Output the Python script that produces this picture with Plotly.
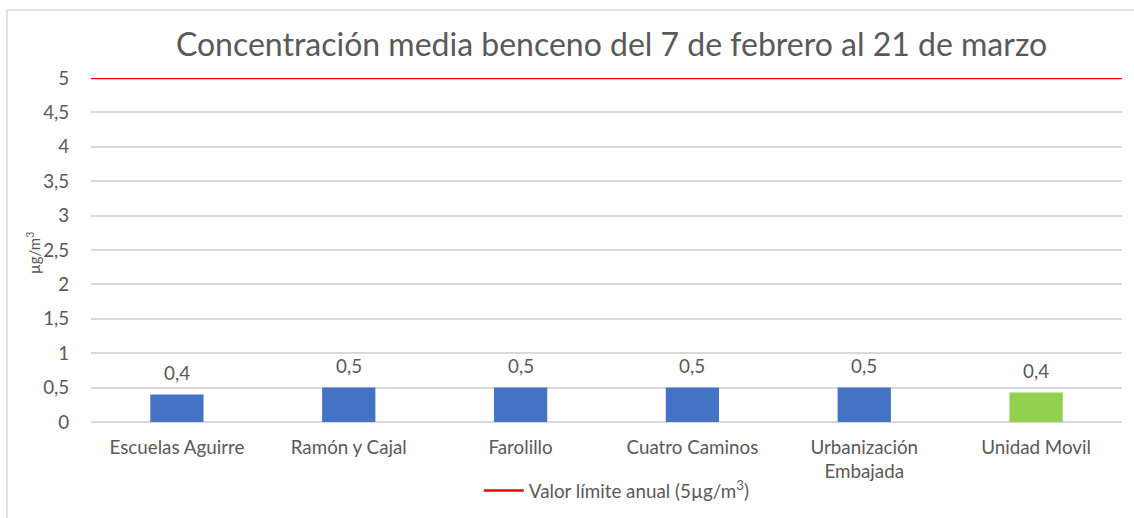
import plotly.graph_objects as go

categories = ["Escuelas Aguirre", "Ramón y Cajal", "Farolillo", "Cuatro Caminos",
              "Urbanización<br>Embajada", "Unidad Movil"]
values = [0.4, 0.5, 0.5, 0.5, 0.5, 0.43]
bar_colors = ["#4472C4", "#4472C4", "#4472C4", "#4472C4", "#4472C4", "#92D050"]
limit_value = 5
limit_name = "Valor límite anual (5µg/m<sup>3</sup>)"
title_text = "Concentración media benceno del 7 de febrero al 21 de marzo"
y_title = "µg/m<sup>3</sup>"
y_ticks = [0, 0.5, 1, 1.5, 2, 2.5, 3, 3.5, 4, 4.5, 5]

labels = [f"{v:.1f}".replace(".", ",") for v in values]
GRAY = "#595959"
FONT = "Lato"
FS = 18.8

fig = go.Figure()
fig.add_trace(go.Bar(x=categories, y=values, marker_color=bar_colors,
                     marker_line_width=0, showlegend=False, hoverinfo="skip"))
fig.add_trace(go.Scatter(x=[0, 1], y=[limit_value, limit_value], mode="lines",
                         line=dict(color="#FF0000", width=2.5), name=limit_name,
                         xaxis="x2", yaxis="y", showlegend=True))

for c, v, t in zip(categories, values, labels):
    fig.add_annotation(x=c, y=v, text=t, showarrow=False, yshift=22,
                       font=dict(family=FONT, size=FS, color=GRAY))

fig.add_annotation(xref="paper", yref="paper", x=-0.0563, y=0.491, text=y_title,
                   textangle=-90, showarrow=False, xanchor="center", yanchor="middle",
                   font=dict(family=FONT, size=15, color=GRAY))

fig.add_shape(type="rect", xref="paper", yref="paper", x0=-0.0815, x1=1.02,
              y0=-0.32, y1=1.198, line=dict(color="#D9D9D9", width=1.5),
              fillcolor="rgba(0,0,0,0)", layer="below")

fig.update_layout(
    width=1134, height=518,
    margin=dict(l=91, r=12, t=78, b=96, autoexpand=False),
    paper_bgcolor="white", plot_bgcolor="white",
    separators=",.",
    font=dict(family=FONT, size=FS, color=GRAY),
    title=dict(text=title_text, xref="container", x=0.5393, xanchor="center",
               y=1 - 45 / 518, yanchor="middle",
               font=dict(family=FONT, size=32, color=GRAY)),
    bargap=0.69,
    xaxis=dict(showgrid=False, showline=False, zeroline=False, automargin=False,
               ticks="outside", ticklen=8, tickcolor="rgba(0,0,0,0)",
               tickfont=dict(family=FONT, size=FS, color=GRAY)),
    xaxis2=dict(overlaying="x", range=[0, 1], visible=False, fixedrange=True),
    yaxis=dict(range=[0, 5], tickvals=y_ticks, showgrid=True, gridcolor="#D9D9D9",
               gridwidth=1.5, zeroline=True, zerolinecolor="#D9D9D9", zerolinewidth=1.5,
               showline=False, ticks="outside", ticklen=17, tickcolor="rgba(0,0,0,0)",
               automargin=False,
               tickfont=dict(family=FONT, size=FS, color=GRAY)),
    legend=dict(orientation="h", x=0.51, xanchor="center", y=-0.2, yanchor="middle",
                itemwidth=40,
                font=dict(family=FONT, size=FS, color=GRAY), bgcolor="rgba(0,0,0,0)"),
)

fig.write_html("out.html", config={"displayModeBar": False},
               post_script="document.body.style.margin='0';")
